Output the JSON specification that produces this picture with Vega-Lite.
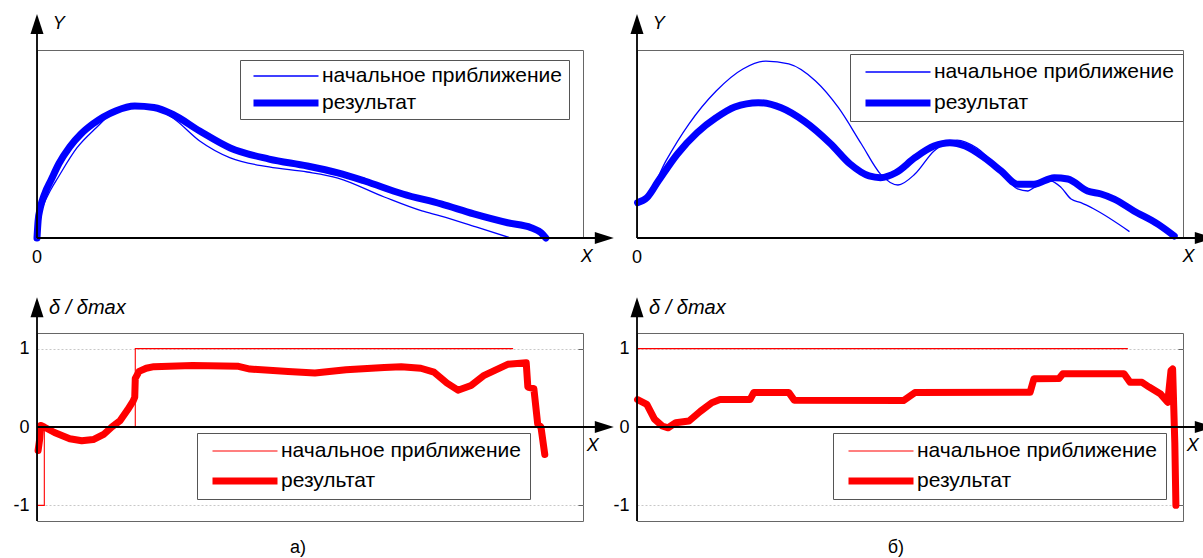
{
  "$schema": "https://vega.github.io/schema/vega-lite/v6.json",
  "padding": {"left": 12, "top": 13, "right": 0, "bottom": 0},
  "autosize": {"type": "pad"},
  "columns": 2,
  "spacing": {"row": 95, "column": 54},
  "bounds": "flush",
  "resolve": {
    "scale": {"x": "independent", "y": "independent", "color": "independent", "strokeWidth": "independent"},
    "legend": {"color": "independent", "strokeWidth": "independent"},
    "axis": {"x": "independent", "y": "independent"}
  },
  "config": {
    "font": "Liberation Sans",
    "view": {"stroke": "#666", "strokeWidth": 1},
    "legend": {
      "strokeColor": "#555", "fillColor": "white", "padding": 7,
      "symbolType": "stroke", "symbolSize": 4225, "clipHeight": 20,
      "symbolOffset": 4, "labelOffset": 0, "labelFontSize": 21,
      "labelFont": "Liberation Sans", "labelLimit": 500, "rowPadding": 6,
      "labelColor": "black", "symbolOpacity": 1
    }
  },
  "datasets": {
    "tl_thick": [
      {"s": "результат", "x": 0, "y": 0}, {"s": "результат", "x": 0.002, "y": 0.09}, {"s": "результат", "x": 0.006, "y": 0.16},
      {"s": "результат", "x": 0.014, "y": 0.235}, {"s": "результат", "x": 0.026, "y": 0.31}, {"s": "результат", "x": 0.04, "y": 0.395},
      {"s": "результат", "x": 0.06, "y": 0.485}, {"s": "результат", "x": 0.08, "y": 0.552}, {"s": "результат", "x": 0.102, "y": 0.606}, {"s": "результат", "x": 0.144, "y": 0.676},
      {"s": "результат", "x": 0.179, "y": 0.702}, {"s": "результат", "x": 0.214, "y": 0.694}, {"s": "результат", "x": 0.249, "y": 0.657},
      {"s": "результат", "x": 0.298, "y": 0.569}, {"s": "результат", "x": 0.354, "y": 0.479}, {"s": "результат", "x": 0.425, "y": 0.42},
      {"s": "результат", "x": 0.495, "y": 0.383}, {"s": "результат", "x": 0.551, "y": 0.346}, {"s": "результат", "x": 0.6, "y": 0.303},
      {"s": "результат", "x": 0.67, "y": 0.234}, {"s": "результат", "x": 0.74, "y": 0.181}, {"s": "результат", "x": 0.8, "y": 0.128},
      {"s": "результат", "x": 0.862, "y": 0.081}, {"s": "результат", "x": 0.905, "y": 0.055}, {"s": "результат", "x": 0.923, "y": 0.028},
      {"s": "результат", "x": 0.932, "y": 0}
    ],
    "tl_thin": [
      {"s": "начальное приближение", "x": 0, "y": 0}, {"s": "начальное приближение", "x": 0.002, "y": 0.08}, {"s": "начальное приближение", "x": 0.01, "y": 0.16},
      {"s": "начальное приближение", "x": 0.026, "y": 0.261}, {"s": "начальное приближение", "x": 0.038, "y": 0.319}, {"s": "начальное приближение", "x": 0.073, "y": 0.479},
      {"s": "начальное приближение", "x": 0.108, "y": 0.585}, {"s": "начальное приближение", "x": 0.144, "y": 0.676}, {"s": "начальное приближение", "x": 0.179, "y": 0.697},
      {"s": "начальное приближение", "x": 0.214, "y": 0.691}, {"s": "начальное приближение", "x": 0.249, "y": 0.638}, {"s": "начальное приближение", "x": 0.298, "y": 0.516},
      {"s": "начальное приближение", "x": 0.354, "y": 0.426}, {"s": "начальное приближение", "x": 0.425, "y": 0.378}, {"s": "начальное приближение", "x": 0.495, "y": 0.351},
      {"s": "начальное приближение", "x": 0.551, "y": 0.319}, {"s": "начальное приближение", "x": 0.636, "y": 0.218}, {"s": "начальное приближение", "x": 0.705, "y": 0.144},
      {"s": "начальное приближение", "x": 0.74, "y": 0.117}, {"s": "начальное приближение", "x": 0.804, "y": 0.059}, {"s": "начальное приближение", "x": 0.868, "y": 0}
    ],
    "tr_thick": [
      {"s": "результат", "x": 0.001, "y": 0.188}, {"s": "результат", "x": 0.018, "y": 0.214}, {"s": "результат", "x": 0.039, "y": 0.303},
      {"s": "результат", "x": 0.074, "y": 0.447}, {"s": "результат", "x": 0.11, "y": 0.56}, {"s": "результат", "x": 0.145, "y": 0.64},
      {"s": "результат", "x": 0.179, "y": 0.697}, {"s": "результат", "x": 0.222, "y": 0.72}, {"s": "результат", "x": 0.264, "y": 0.693},
      {"s": "результат", "x": 0.306, "y": 0.622}, {"s": "результат", "x": 0.355, "y": 0.5}, {"s": "результат", "x": 0.39, "y": 0.394},
      {"s": "результат", "x": 0.425, "y": 0.33}, {"s": "результат", "x": 0.446, "y": 0.321}, {"s": "результат", "x": 0.474, "y": 0.347},
      {"s": "результат", "x": 0.509, "y": 0.427}, {"s": "результат", "x": 0.544, "y": 0.489}, {"s": "результат", "x": 0.573, "y": 0.507},
      {"s": "результат", "x": 0.601, "y": 0.489}, {"s": "результат", "x": 0.636, "y": 0.427}, {"s": "результат", "x": 0.667, "y": 0.356},
      {"s": "результат", "x": 0.697, "y": 0.286}, {"s": "результат", "x": 0.727, "y": 0.286}, {"s": "результат", "x": 0.764, "y": 0.321},
      {"s": "результат", "x": 0.789, "y": 0.314}, {"s": "результат", "x": 0.825, "y": 0.25}, {"s": "результат", "x": 0.85, "y": 0.234},
      {"s": "результат", "x": 0.874, "y": 0.207}, {"s": "результат", "x": 0.91, "y": 0.144}, {"s": "результат", "x": 0.954, "y": 0.074},
      {"s": "результат", "x": 0.984, "y": 0.011}
    ],
    "tr_thin": [
      {"s": "начальное приближение", "x": 0.001, "y": 0.188}, {"s": "начальное приближение", "x": 0.018, "y": 0.214}, {"s": "начальное приближение", "x": 0.053, "y": 0.41},
      {"s": "начальное приближение", "x": 0.095, "y": 0.606}, {"s": "начальное приближение", "x": 0.145, "y": 0.782}, {"s": "начальное приближение", "x": 0.194, "y": 0.899},
      {"s": "начальное приближение", "x": 0.236, "y": 0.941}, {"s": "начальное приближение", "x": 0.278, "y": 0.926}, {"s": "начальное приближение", "x": 0.327, "y": 0.835},
      {"s": "начальное приближение", "x": 0.369, "y": 0.693}, {"s": "начальное приближение", "x": 0.411, "y": 0.5}, {"s": "начальное приближение", "x": 0.446, "y": 0.34},
      {"s": "начальное приближение", "x": 0.478, "y": 0.282}, {"s": "начальное приближение", "x": 0.509, "y": 0.34}, {"s": "начальное приближение", "x": 0.544, "y": 0.463},
      {"s": "начальное приближение", "x": 0.586, "y": 0.521}, {"s": "начальное приближение", "x": 0.622, "y": 0.48}, {"s": "начальное приближение", "x": 0.667, "y": 0.356},
      {"s": "начальное приближение", "x": 0.697, "y": 0.261}, {"s": "начальное приближение", "x": 0.716, "y": 0.25}, {"s": "начальное приближение", "x": 0.727, "y": 0.268},
      {"s": "начальное приближение", "x": 0.758, "y": 0.303}, {"s": "начальное приближение", "x": 0.777, "y": 0.268}, {"s": "начальное приближение", "x": 0.795, "y": 0.207},
      {"s": "начальное приближение", "x": 0.813, "y": 0.188}, {"s": "начальное приближение", "x": 0.837, "y": 0.154}, {"s": "начальное приближение", "x": 0.902, "y": 0.034}
    ],
    "bl_thick": [
      {"s": "результат", "x": 0.002, "y": -0.3}, {"s": "результат", "x": 0.005, "y": -0.15}, {"s": "результат", "x": 0.007, "y": 0.02},
      {"s": "результат", "x": 0.013, "y": 0.0}, {"s": "результат", "x": 0.032, "y": -0.07}, {"s": "результат", "x": 0.06, "y": -0.15},
      {"s": "результат", "x": 0.082, "y": -0.175}, {"s": "результат", "x": 0.103, "y": -0.16}, {"s": "результат", "x": 0.123, "y": -0.09},
      {"s": "результат", "x": 0.137, "y": 0.0}, {"s": "результат", "x": 0.152, "y": 0.08}, {"s": "результат", "x": 0.166, "y": 0.22},
      {"s": "результат", "x": 0.176, "y": 0.33}, {"s": "результат", "x": 0.179, "y": 0.38}, {"s": "результат", "x": 0.18, "y": 0.62},
      {"s": "результат", "x": 0.187, "y": 0.71}, {"s": "результат", "x": 0.2, "y": 0.75}, {"s": "результат", "x": 0.214, "y": 0.77},
      {"s": "результат", "x": 0.285, "y": 0.786}, {"s": "результат", "x": 0.369, "y": 0.775}, {"s": "результат", "x": 0.39, "y": 0.74},
      {"s": "результат", "x": 0.46, "y": 0.71}, {"s": "результат", "x": 0.509, "y": 0.69}, {"s": "результат", "x": 0.566, "y": 0.73},
      {"s": "результат", "x": 0.636, "y": 0.76}, {"s": "результат", "x": 0.667, "y": 0.77}, {"s": "результат", "x": 0.703, "y": 0.75},
      {"s": "результат", "x": 0.727, "y": 0.7}, {"s": "результат", "x": 0.751, "y": 0.56}, {"s": "результат", "x": 0.771, "y": 0.47},
      {"s": "результат", "x": 0.795, "y": 0.53}, {"s": "результат", "x": 0.819, "y": 0.66}, {"s": "результат", "x": 0.862, "y": 0.8},
      {"s": "результат", "x": 0.896, "y": 0.82}, {"s": "результат", "x": 0.899, "y": 0.51}, {"s": "результат", "x": 0.91, "y": 0.49},
      {"s": "результат", "x": 0.917, "y": 0.04}, {"s": "результат", "x": 0.923, "y": 0.0}, {"s": "результат", "x": 0.93, "y": -0.35}
    ],
    "bl_thin": [
      {"s": "начальное приближение", "x": 0, "y": -1}, {"s": "начальное приближение", "x": 0.0134, "y": 0},
      {"s": "начальное приближение", "x": 0.18, "y": 1}, {"s": "начальное приближение", "x": 0.872, "y": 1}
    ],
    "br_thick": [
      {"s": "результат", "x": 0.001, "y": 0.35}, {"s": "результат", "x": 0.018, "y": 0.29}, {"s": "результат", "x": 0.032, "y": 0.1},
      {"s": "результат", "x": 0.046, "y": 0.013}, {"s": "результат", "x": 0.057, "y": -0.01}, {"s": "результат", "x": 0.071, "y": 0.055},
      {"s": "результат", "x": 0.095, "y": 0.076}, {"s": "результат", "x": 0.116, "y": 0.2}, {"s": "результат", "x": 0.137, "y": 0.31},
      {"s": "результат", "x": 0.152, "y": 0.35}, {"s": "результат", "x": 0.207, "y": 0.35}, {"s": "результат", "x": 0.214, "y": 0.44},
      {"s": "результат", "x": 0.278, "y": 0.44}, {"s": "результат", "x": 0.288, "y": 0.34}, {"s": "результат", "x": 0.488, "y": 0.338},
      {"s": "результат", "x": 0.509, "y": 0.44}, {"s": "результат", "x": 0.72, "y": 0.444}, {"s": "результат", "x": 0.727, "y": 0.615},
      {"s": "результат", "x": 0.773, "y": 0.62}, {"s": "результат", "x": 0.78, "y": 0.68}, {"s": "результат", "x": 0.892, "y": 0.68},
      {"s": "результат", "x": 0.903, "y": 0.57}, {"s": "результат", "x": 0.925, "y": 0.57}, {"s": "результат", "x": 0.938, "y": 0.51},
      {"s": "результат", "x": 0.959, "y": 0.42}, {"s": "результат", "x": 0.972, "y": 0.316}, {"s": "результат", "x": 0.978, "y": 0.72},
      {"s": "результат", "x": 0.981, "y": 0.74}, {"s": "результат", "x": 0.985, "y": -0.2}, {"s": "результат", "x": 0.987, "y": -1.0}
    ],
    "br_thin": [
      {"s": "начальное приближение", "x": 0, "y": 1}, {"s": "начальное приближение", "x": 0.899, "y": 1}
    ]
  },
  "concat": [
    {
      "width": 546, "height": 188,
      "data": {"values": [{}]},
      "layer": [
        {
          "data": {"name": "tl_thick"},
          "mark": {"type": "line", "interpolate": "monotone", "strokeCap": "round", "strokeJoin": "round"},
          "encoding": {
            "x": {"field": "x", "type": "quantitative", "scale": {"domain": [0, 1], "nice": false, "zero": false}, "axis": null},
            "y": {"field": "y", "type": "quantitative", "scale": {"domain": [0, 1], "nice": false}, "axis": null},
            "color": {"field": "s", "type": "nominal", "scale": {"domain": ["начальное приближение", "результат"], "range": ["#0000ff", "#0000ff"]}, "legend": {"title": null, "orient": "none", "legendX": 203, "legendY": 10, "padding": 6}},
            "strokeWidth": {"field": "s", "type": "nominal", "scale": {"domain": ["начальное приближение", "результат"], "range": [1.3, 7]}, "legend": {"title": null, "orient": "none", "legendX": 203, "legendY": 10, "padding": 6}}
          }
        },
        {
          "data": {"name": "tl_thin"},
          "mark": {"type": "line", "interpolate": "monotone"},
          "encoding": {
            "x": {"field": "x", "type": "quantitative", "axis": null},
            "y": {"field": "y", "type": "quantitative", "axis": null},
            "color": {"field": "s", "type": "nominal", "legend": {"title": null, "orient": "none", "legendX": 203, "legendY": 10, "padding": 6}},
            "strokeWidth": {"field": "s", "type": "nominal", "legend": {"title": null, "orient": "none", "legendX": 203, "legendY": 10, "padding": 6}}
          }
        },
        {
          "mark": {"type": "rule", "color": "black", "strokeWidth": 1.8},
          "encoding": {"x": {"datum": 0, "type": "quantitative", "axis": null}, "x2": {"datum": 1.03}, "y": {"datum": 0, "type": "quantitative", "axis": null}}
        },
        {
          "mark": {"type": "rule", "color": "black", "strokeWidth": 1.8},
          "encoding": {"x": {"datum": 0, "type": "quantitative", "axis": null}, "y": {"datum": 0, "type": "quantitative", "axis": null}, "y2": {"datum": 1.12}}
        },
        {
          "mark": {"type": "point", "shape": "M0,-1L0.65,1L-0.65,1Z", "size": 400, "filled": true, "color": "black", "opacity": 1, "strokeWidth": 0},
          "encoding": {"x": {"datum": 0, "type": "quantitative", "axis": null}, "y": {"datum": 1.138, "type": "quantitative", "axis": null}}
        },
        {
          "mark": {"type": "point", "shape": "M1,0L-1,0.63L-1,-0.63Z", "size": 361, "filled": true, "color": "black", "opacity": 1, "strokeWidth": 0},
          "encoding": {"x": {"datum": 1.039, "type": "quantitative", "axis": null}, "y": {"datum": 0, "type": "quantitative", "axis": null}}
        },
        {
          "mark": {"type": "text", "text": "Y", "fontSize": 18, "fontStyle": "italic", "align": "left", "baseline": "middle", "color": "black"},
          "encoding": {"x": {"datum": 0.029, "type": "quantitative", "axis": null}, "y": {"datum": 1.138, "type": "quantitative", "axis": null}}
        },
        {
          "mark": {"type": "text", "text": "X", "fontSize": 18, "fontStyle": "italic", "align": "center", "baseline": "middle", "color": "black"},
          "encoding": {"x": {"datum": 1.007, "type": "quantitative", "axis": null}, "y": {"datum": -0.101, "type": "quantitative", "axis": null}}
        },
        {
          "mark": {"type": "text", "text": "0", "fontSize": 18, "align": "center", "baseline": "middle", "color": "black"},
          "encoding": {"x": {"datum": 0, "type": "quantitative", "axis": null}, "y": {"datum": -0.106, "type": "quantitative", "axis": null}}
        }
      ]
    },
    {
      "width": 546, "height": 188,
      "data": {"values": [{}]},
      "layer": [
        {
          "data": {"name": "tr_thick"},
          "mark": {"type": "line", "interpolate": "monotone", "strokeCap": "round", "strokeJoin": "round"},
          "encoding": {
            "x": {"field": "x", "type": "quantitative", "scale": {"domain": [0, 1], "nice": false, "zero": false}, "axis": null},
            "y": {"field": "y", "type": "quantitative", "scale": {"domain": [0, 1], "nice": false}, "axis": null},
            "color": {"field": "s", "type": "nominal", "scale": {"domain": ["начальное приближение", "результат"], "range": ["#0000ff", "#0000ff"]}, "legend": {"title": null, "orient": "none", "legendX": 213, "legendY": 4, "rowPadding": 10, "padding": 8}},
            "strokeWidth": {"field": "s", "type": "nominal", "scale": {"domain": ["начальное приближение", "результат"], "range": [1.3, 7]}, "legend": {"title": null, "orient": "none", "legendX": 213, "legendY": 4, "rowPadding": 10, "padding": 8}}
          }
        },
        {
          "data": {"name": "tr_thin"},
          "mark": {"type": "line", "interpolate": "monotone"},
          "encoding": {
            "x": {"field": "x", "type": "quantitative", "axis": null},
            "y": {"field": "y", "type": "quantitative", "axis": null},
            "color": {"field": "s", "type": "nominal", "legend": {"title": null, "orient": "none", "legendX": 213, "legendY": 4, "rowPadding": 10, "padding": 8}},
            "strokeWidth": {"field": "s", "type": "nominal", "legend": {"title": null, "orient": "none", "legendX": 213, "legendY": 4, "rowPadding": 10, "padding": 8}}
          }
        },
        {
          "mark": {"type": "rule", "color": "black", "strokeWidth": 1.8},
          "encoding": {"x": {"datum": 0, "type": "quantitative", "axis": null}, "x2": {"datum": 1.03}, "y": {"datum": 0, "type": "quantitative", "axis": null}}
        },
        {
          "mark": {"type": "rule", "color": "black", "strokeWidth": 1.8},
          "encoding": {"x": {"datum": 0, "type": "quantitative", "axis": null}, "y": {"datum": 0, "type": "quantitative", "axis": null}, "y2": {"datum": 1.12}}
        },
        {
          "mark": {"type": "point", "shape": "M0,-1L0.65,1L-0.65,1Z", "size": 400, "filled": true, "color": "black", "opacity": 1, "strokeWidth": 0},
          "encoding": {"x": {"datum": 0, "type": "quantitative", "axis": null}, "y": {"datum": 1.138, "type": "quantitative", "axis": null}}
        },
        {
          "mark": {"type": "point", "shape": "M1,0L-1,0.63L-1,-0.63Z", "size": 361, "filled": true, "color": "black", "opacity": 1, "strokeWidth": 0},
          "encoding": {"x": {"datum": 1.039, "type": "quantitative", "axis": null}, "y": {"datum": 0, "type": "quantitative", "axis": null}}
        },
        {
          "mark": {"type": "text", "text": "Y", "fontSize": 18, "fontStyle": "italic", "align": "left", "baseline": "middle", "color": "black"},
          "encoding": {"x": {"datum": 0.029, "type": "quantitative", "axis": null}, "y": {"datum": 1.138, "type": "quantitative", "axis": null}}
        },
        {
          "mark": {"type": "text", "text": "X", "fontSize": 18, "fontStyle": "italic", "align": "center", "baseline": "middle", "color": "black"},
          "encoding": {"x": {"datum": 1.01, "type": "quantitative", "axis": null}, "y": {"datum": -0.101, "type": "quantitative", "axis": null}}
        },
        {
          "mark": {"type": "text", "text": "0", "fontSize": 18, "align": "center", "baseline": "middle", "color": "black"},
          "encoding": {"x": {"datum": 0, "type": "quantitative", "axis": null}, "y": {"datum": -0.106, "type": "quantitative", "axis": null}}
        }
      ]
    },
    {
      "width": 546, "height": 188,
      "data": {"values": [{}]},
      "resolve": {"axis": {"y": "independent"}},
      "layer": [
        {
          "data": {"name": "bl_thick"},
          "mark": {"type": "line", "strokeCap": "round", "strokeJoin": "round"},
          "encoding": {
            "x": {"field": "x", "type": "quantitative", "scale": {"domain": [0, 1], "nice": false, "zero": false}, "axis": null},
            "y": {"field": "y", "type": "quantitative", "scale": {"domain": [-1.2, 1.2], "nice": false},
              "axis": {"values": [-1, 0, 1], "title": null, "domain": false, "ticks": false, "labelFontSize": 18, "labelFont": "Liberation Sans", "labelColor": "black", "labelPadding": 8, "labelExpr": "toString(datum.value)", "grid": true, "gridColor": "#c8c8c8", "gridDash": [2, 2], "gridWidth": 1, "labelFlush": false, "labelOverlap": false}},
            "color": {"field": "s", "type": "nominal", "scale": {"domain": ["начальное приближение", "результат"], "range": ["#ff0000", "#ff0000"]}, "legend": {"title": null, "orient": "none", "legendX": 160, "legendY": 100, "rowPadding": 9, "padding": 8}},
            "strokeWidth": {"field": "s", "type": "nominal", "scale": {"domain": ["начальное приближение", "результат"], "range": [1.1, 7]}, "legend": {"title": null, "orient": "none", "legendX": 160, "legendY": 100, "rowPadding": 9, "padding": 8}}
          }
        },
        {
          "data": {"name": "bl_thin"},
          "mark": {"type": "line", "interpolate": "step-after"},
          "encoding": {
            "x": {"field": "x", "type": "quantitative", "axis": null},
            "y": {"field": "y", "type": "quantitative", "axis": {"orient": "right", "values": [-1, 0, 1], "title": null, "labels": false, "domain": false, "grid": false, "ticks": true, "tickSize": -5, "tickColor": "#666", "tickWidth": 1}},
            "color": {"field": "s", "type": "nominal", "legend": {"title": null, "orient": "none", "legendX": 160, "legendY": 100, "rowPadding": 9, "padding": 8}},
            "strokeWidth": {"field": "s", "type": "nominal", "legend": {"title": null, "orient": "none", "legendX": 160, "legendY": 100, "rowPadding": 9, "padding": 8}}
          }
        },
        {
          "mark": {"type": "rule", "color": "black", "strokeWidth": 1.8},
          "encoding": {"x": {"datum": 0, "type": "quantitative", "axis": null}, "x2": {"datum": 1.03}, "y": {"datum": 0, "type": "quantitative", "axis": null}}
        },
        {
          "mark": {"type": "rule", "color": "black", "strokeWidth": 1.8},
          "encoding": {"x": {"datum": 0, "type": "quantitative", "axis": null}, "y": {"datum": -1.2, "type": "quantitative", "axis": null}, "y2": {"datum": 1.51}}
        },
        {
          "mark": {"type": "point", "shape": "M0,-1L0.65,1L-0.65,1Z", "size": 400, "filled": true, "color": "black", "opacity": 1, "strokeWidth": 0},
          "encoding": {"x": {"datum": 0, "type": "quantitative", "axis": null}, "y": {"datum": 1.529, "type": "quantitative", "axis": null}}
        },
        {
          "mark": {"type": "point", "shape": "M1,0L-1,0.63L-1,-0.63Z", "size": 361, "filled": true, "color": "black", "opacity": 1, "strokeWidth": 0},
          "encoding": {"x": {"datum": 1.039, "type": "quantitative", "axis": null}, "y": {"datum": 0, "type": "quantitative", "axis": null}}
        },
        {
          "mark": {"type": "text", "text": "δ / δmax", "fontSize": 20, "fontStyle": "italic", "align": "left", "baseline": "middle", "color": "black"},
          "encoding": {"x": {"datum": 0.022, "type": "quantitative", "axis": null}, "y": {"datum": 1.522, "type": "quantitative", "axis": null}}
        },
        {
          "mark": {"type": "text", "text": "X", "fontSize": 18, "fontStyle": "italic", "align": "center", "baseline": "middle", "color": "black"},
          "encoding": {"x": {"datum": 1.018, "type": "quantitative", "axis": null}, "y": {"datum": -0.248, "type": "quantitative", "axis": null}}
        },
        {
          "mark": {"type": "text", "text": "а)", "fontSize": 18, "align": "center", "baseline": "middle", "color": "black"},
          "encoding": {"x": {"datum": 0.478, "type": "quantitative", "axis": null}, "y": {"datum": -1.548, "type": "quantitative", "axis": null}}
        }
      ]
    },
    {
      "width": 546, "height": 188,
      "data": {"values": [{}]},
      "resolve": {"axis": {"y": "independent"}},
      "layer": [
        {
          "data": {"name": "br_thick"},
          "mark": {"type": "line", "strokeCap": "round", "strokeJoin": "round"},
          "encoding": {
            "x": {"field": "x", "type": "quantitative", "scale": {"domain": [0, 1], "nice": false, "zero": false}, "axis": null},
            "y": {"field": "y", "type": "quantitative", "scale": {"domain": [-1.2, 1.2], "nice": false},
              "axis": {"values": [-1, 0, 1], "title": null, "domain": false, "ticks": false, "labelFontSize": 18, "labelFont": "Liberation Sans", "labelColor": "black", "labelPadding": 8, "labelExpr": "toString(datum.value)", "grid": true, "gridColor": "#c8c8c8", "gridDash": [2, 2], "gridWidth": 1, "labelFlush": false, "labelOverlap": false}},
            "color": {"field": "s", "type": "nominal", "scale": {"domain": ["начальное приближение", "результат"], "range": ["#ff0000", "#ff0000"]}, "legend": {"title": null, "orient": "none", "legendX": 196, "legendY": 100, "rowPadding": 9, "padding": 8}},
            "strokeWidth": {"field": "s", "type": "nominal", "scale": {"domain": ["начальное приближение", "результат"], "range": [1.1, 7]}, "legend": {"title": null, "orient": "none", "legendX": 196, "legendY": 100, "rowPadding": 9, "padding": 8}}
          }
        },
        {
          "data": {"name": "br_thin"},
          "mark": {"type": "line"},
          "encoding": {
            "x": {"field": "x", "type": "quantitative", "axis": null},
            "y": {"field": "y", "type": "quantitative", "axis": {"orient": "right", "values": [-1, 0, 1], "title": null, "labels": false, "domain": false, "grid": false, "ticks": true, "tickSize": -5, "tickColor": "#666", "tickWidth": 1}},
            "color": {"field": "s", "type": "nominal", "legend": {"title": null, "orient": "none", "legendX": 196, "legendY": 100, "rowPadding": 9, "padding": 8}},
            "strokeWidth": {"field": "s", "type": "nominal", "legend": {"title": null, "orient": "none", "legendX": 196, "legendY": 100, "rowPadding": 9, "padding": 8}}
          }
        },
        {
          "mark": {"type": "rule", "color": "black", "strokeWidth": 1.8},
          "encoding": {"x": {"datum": 0, "type": "quantitative", "axis": null}, "x2": {"datum": 1.03}, "y": {"datum": 0, "type": "quantitative", "axis": null}}
        },
        {
          "mark": {"type": "rule", "color": "black", "strokeWidth": 1.8},
          "encoding": {"x": {"datum": 0, "type": "quantitative", "axis": null}, "y": {"datum": -1.2, "type": "quantitative", "axis": null}, "y2": {"datum": 1.51}}
        },
        {
          "mark": {"type": "point", "shape": "M0,-1L0.65,1L-0.65,1Z", "size": 400, "filled": true, "color": "black", "opacity": 1, "strokeWidth": 0},
          "encoding": {"x": {"datum": 0, "type": "quantitative", "axis": null}, "y": {"datum": 1.529, "type": "quantitative", "axis": null}}
        },
        {
          "mark": {"type": "point", "shape": "M1,0L-1,0.63L-1,-0.63Z", "size": 361, "filled": true, "color": "black", "opacity": 1, "strokeWidth": 0},
          "encoding": {"x": {"datum": 1.039, "type": "quantitative", "axis": null}, "y": {"datum": 0, "type": "quantitative", "axis": null}}
        },
        {
          "mark": {"type": "text", "text": "δ / δmax", "fontSize": 20, "fontStyle": "italic", "align": "left", "baseline": "middle", "color": "black"},
          "encoding": {"x": {"datum": 0.022, "type": "quantitative", "axis": null}, "y": {"datum": 1.522, "type": "quantitative", "axis": null}}
        },
        {
          "mark": {"type": "text", "text": "X", "fontSize": 18, "fontStyle": "italic", "align": "center", "baseline": "middle", "color": "black"},
          "encoding": {"x": {"datum": 1.018, "type": "quantitative", "axis": null}, "y": {"datum": -0.248, "type": "quantitative", "axis": null}}
        },
        {
          "mark": {"type": "text", "text": "б)", "fontSize": 18, "align": "center", "baseline": "middle", "color": "black"},
          "encoding": {"x": {"datum": 0.474, "type": "quantitative", "axis": null}, "y": {"datum": -1.548, "type": "quantitative", "axis": null}}
        }
      ]
    }
  ]
}
